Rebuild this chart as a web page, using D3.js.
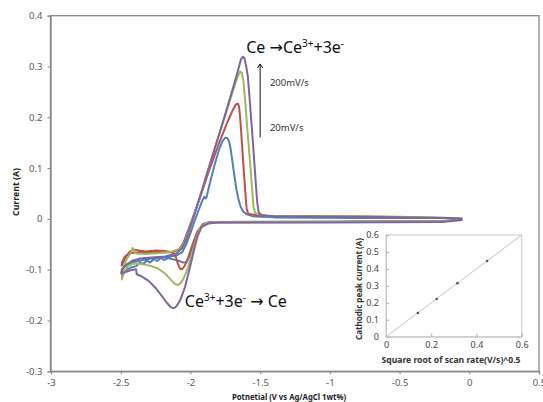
<!DOCTYPE html>
<html><head><meta charset="utf-8">
<script src="https://cdn.jsdelivr.net/npm/d3@7"></script>
<style>
html,body{margin:0;padding:0;background:#fff;}
svg{display:block;}
</style></head>
<body><svg id="c" width="543" height="402"></svg>
<script>
// ---- data ----
const xTicks = [-3, -2.5, -2, -1.5, -1, -0.5, 0, 0.5];
const yTicks = [-0.3, -0.2, -0.1, 0, 0.1, 0.2, 0.3, 0.4];
const scanRates = ["20mV/s", "50mV/s", "100mV/s", "200mV/s"];

const cv20 = [
 [-0.05,-0.001],[-0.20,-0.004],[-1.00,-0.005],[-1.86,-0.006],[-1.91,-0.010],[-1.95,-0.026],[-1.985,-0.055],[-2.01,-0.075],[-2.03,-0.086],[-2.05,-0.086],[-2.08,-0.083],[-2.12,-0.080],[-2.16,-0.077],[-2.19,-0.081],[-2.21,-0.077],[-2.24,-0.083],[-2.26,-0.079],[-2.29,-0.086],[-2.31,-0.082],[-2.34,-0.089],[-2.36,-0.086],[-2.39,-0.093],[-2.42,-0.095],[-2.45,-0.099],[-2.475,-0.103],[-2.495,-0.106],
 [-2.49,-0.098],[-2.46,-0.091],[-2.42,-0.086],[-2.36,-0.082],[-2.28,-0.078],[-2.18,-0.075],[-2.10,-0.072],[-2.06,-0.066],[-2.03,-0.050],[-2.00,-0.028],[-1.97,-0.004],[-1.94,0.018],[-1.915,0.036],[-1.90,0.044],[-1.893,0.040],[-1.885,0.042],[-1.87,0.060],[-1.85,0.082],[-1.82,0.113],[-1.79,0.140],[-1.77,0.153],[-1.75,0.160],[-1.735,0.159],[-1.722,0.152],[-1.712,0.138],[-1.70,0.115],[-1.685,0.085],[-1.67,0.058],[-1.655,0.038],[-1.64,0.024],[-1.62,0.014],[-1.595,0.009],[-1.55,0.005],[-1.40,0.003],[-0.80,0.002],[-0.15,0.002],[-0.05,0.001]
];
const cv50 = [
 [-0.05,-0.001],[-0.20,-0.005],[-1.00,-0.006],[-1.85,-0.007],[-1.91,-0.011],[-1.95,-0.025],[-1.985,-0.050],[-2.015,-0.075],[-2.04,-0.092],[-2.06,-0.099],[-2.075,-0.098],[-2.09,-0.088],[-2.105,-0.074],[-2.13,-0.066],[-2.18,-0.063],[-2.25,-0.062],[-2.32,-0.064],[-2.37,-0.062],[-2.41,-0.060],[-2.44,-0.066],[-2.47,-0.078],[-2.493,-0.092],
 [-2.49,-0.085],[-2.47,-0.074],[-2.44,-0.068],[-2.40,-0.066],[-2.30,-0.067],[-2.20,-0.066],[-2.12,-0.065],[-2.08,-0.060],[-2.05,-0.047],[-2.02,-0.025],[-1.99,-0.003],[-1.93,0.043],[-1.87,0.092],[-1.80,0.145],[-1.74,0.187],[-1.695,0.215],[-1.672,0.226],[-1.660,0.227],[-1.652,0.222],[-1.645,0.205],[-1.637,0.175],[-1.628,0.138],[-1.618,0.098],[-1.607,0.055],[-1.597,0.020],[-1.585,0.010],[-1.50,0.006],[-0.80,0.004],[-0.15,0.002],[-0.05,0.000]
];
const cv100 = [
 [-0.05,-0.001],[-0.20,-0.005],[-1.00,-0.006],[-1.82,-0.006],[-1.89,-0.009],[-1.93,-0.018],[-1.96,-0.040],[-1.99,-0.070],[-2.02,-0.098],[-2.05,-0.118],[-2.075,-0.128],[-2.09,-0.130],[-2.11,-0.128],[-2.14,-0.120],[-2.18,-0.108],[-2.23,-0.098],[-2.29,-0.092],[-2.35,-0.089],[-2.41,-0.088],[-2.45,-0.093],[-2.475,-0.104],[-2.492,-0.119],
 [-2.488,-0.108],[-2.475,-0.090],[-2.455,-0.078],[-2.43,-0.068],[-2.415,-0.057],[-2.405,-0.063],[-2.39,-0.068],[-2.32,-0.069],[-2.22,-0.067],[-2.13,-0.064],[-2.07,-0.058],[-2.04,-0.045],[-2.01,-0.022],[-1.98,0.003],[-1.93,0.045],[-1.85,0.117],[-1.76,0.196],[-1.70,0.248],[-1.665,0.277],[-1.645,0.290],[-1.632,0.288],[-1.62,0.272],[-1.605,0.225],[-1.59,0.170],[-1.575,0.120],[-1.56,0.068],[-1.548,0.025],[-1.535,0.011],[-1.45,0.006],[-0.65,0.005],[-0.15,0.002],[-0.05,0.001]
];
const cv200 = [
 [-0.05,-0.002],[-0.20,-0.006],[-1.00,-0.007],[-1.80,-0.007],[-1.87,-0.009],[-1.92,-0.016],[-1.95,-0.035],[-1.98,-0.068],[-2.01,-0.103],[-2.04,-0.135],[-2.07,-0.158],[-2.10,-0.172],[-2.12,-0.176],[-2.14,-0.174],[-2.17,-0.165],[-2.21,-0.150],[-2.25,-0.136],[-2.30,-0.122],[-2.35,-0.113],[-2.385,-0.109],[-2.39,-0.099],[-2.43,-0.101],[-2.47,-0.105],[-2.495,-0.108],
 [-2.49,-0.099],[-2.46,-0.090],[-2.42,-0.083],[-2.36,-0.078],[-2.28,-0.076],[-2.18,-0.074],[-2.10,-0.068],[-2.06,-0.058],[-2.03,-0.040],[-2.00,-0.016],[-1.975,0.006],[-1.93,0.045],[-1.85,0.117],[-1.75,0.206],[-1.69,0.262],[-1.655,0.296],[-1.638,0.314],[-1.625,0.319],[-1.612,0.316],[-1.60,0.300],[-1.588,0.280],[-1.575,0.235],[-1.56,0.180],[-1.545,0.125],[-1.53,0.065],[-1.52,0.030],[-1.51,0.013],[-1.49,0.007],[-1.40,0.005],[-0.80,0.004],[-0.15,0.002],[-0.05,0.000]
];

// inset data
const sqrtScanRate = [0.141, 0.224, 0.316, 0.447];
const cathodicPeak = [0.140, 0.222, 0.316, 0.447];
const fitLineX = [0, 0.6];
const fitLineY = [0, 0.6];
const insetXTicks = [0, 0.2, 0.4, 0.6];
const insetYTicks = [0, 0.1, 0.2, 0.3, 0.4, 0.5, 0.6];

// ---- drawing ----
const svg = d3.select("#c");
const x = d3.scaleLinear().domain([-3, 0.5]).range([51, 539]);
const y = d3.scaleLinear().domain([-0.3, 0.4]).range([371.3, 15.7]);
const tickFont = "'Noto Sans', 'DejaVu Sans', sans-serif";

// frame
svg.append("rect").attr("x", 50.5).attr("y", 15.7).attr("width", 488.5).attr("height", 355.6)
  .attr("fill", "none").attr("stroke", "#878787").attr("stroke-width", 1.3);

const gx = svg.append("g").attr("transform", "translate(0,371.3)")
  .call(d3.axisBottom(x).tickValues(xTicks).tickFormat(d => String(d)).tickSize(3).tickPadding(5));
const gy = svg.append("g").attr("transform", "translate(50.5,0)")
  .call(d3.axisLeft(y).tickValues(yTicks).tickFormat(d => String(d)).tickSize(3).tickPadding(5));
[gx, gy].forEach(g => {
  g.select(".domain").attr("stroke", "#878787").attr("stroke-width", 1.3);
  g.selectAll(".tick line").attr("stroke", "#878787");
  g.selectAll(".tick text").attr("fill", "#595959").attr("font-size", 9.5).attr("font-family", tickFont);
});

// axis titles
svg.append("text").attr("x", 289).attr("y", 400).attr("text-anchor", "middle")
  .attr("font-family", tickFont).attr("font-weight", "bold").attr("font-size", 9)
  .attr("textLength", 114).attr("lengthAdjust", "spacingAndGlyphs").attr("fill", "#222")
  .text("Potnetial (V vs Ag/AgCl 1wt%)");
svg.append("text").attr("transform", "translate(19,192) rotate(-90)").attr("text-anchor", "middle")
  .attr("font-family", tickFont).attr("font-weight", "bold").attr("font-size", 9)
  .attr("textLength", 48).attr("lengthAdjust", "spacingAndGlyphs").attr("fill", "#222")
  .text("Current (A)");

// curves
const line = d3.line().x(d => x(d[0])).y(d => y(d[1])).curve(d3.curveLinear);
const series = [cv20, cv50, cv100, cv200];
const colors = ["#4f81bd", "#c0504d", "#9bbb59", "#8064a2"];
series.forEach((s, i) => {
  svg.append("path").datum(s).attr("d", line).attr("fill", "none")
    .attr("stroke", colors[i]).attr("stroke-width", 2).attr("stroke-linejoin", "round")
    .attr("data-rate", scanRates[i]);
});

// annotations
const annFont = "'Noto Sans', 'DejaVu Sans', sans-serif";
const t1 = svg.append("text").attr("x", x(-1.60)).attr("y", y(0.326)).attr("font-family", annFont)
  .attr("font-size", 16).attr("fill", "#111");
t1.append("tspan").text("Ce \u2192Ce");
t1.append("tspan").attr("font-size", 10).attr("dy", -6).text("3+");
t1.append("tspan").attr("dy", 6).text("+3e");
t1.append("tspan").attr("font-size", 10).attr("dy", -6).text("-");

const t2 = svg.append("text").attr("x", x(-2.04)).attr("y", y(-0.173)).attr("font-family", annFont)
  .attr("font-size", 16).attr("fill", "#111");
t2.append("tspan").text("Ce");
t2.append("tspan").attr("font-size", 10).attr("dy", -6).text("3+");
t2.append("tspan").attr("dy", 6).text("+3e");
t2.append("tspan").attr("font-size", 10).attr("dy", -6).text("-");
t2.append("tspan").attr("dy", 6).text(" \u2192 Ce");

svg.append("text").attr("x", x(-1.43)).attr("y", y(0.262)).attr("font-family", annFont)
  .attr("font-size", 9.5).attr("fill", "#333").text(scanRates[3]);
svg.append("text").attr("x", x(-1.43)).attr("y", y(0.174)).attr("font-family", annFont)
  .attr("font-size", 9.5).attr("fill", "#333").text(scanRates[0]);

// arrow
const ax = x(-1.50);
svg.append("line").attr("x1", ax).attr("x2", ax).attr("y1", y(0.16)).attr("y2", y(0.305))
  .attr("stroke", "#111").attr("stroke-width", 1);
svg.append("path").attr("d", `M${ax-2.6},${y(0.305)+4} L${ax},${y(0.305)} L${ax+2.6},${y(0.305)+4}`)
  .attr("fill", "none").attr("stroke", "#111").attr("stroke-width", 1);

// ---- inset ----
const ix = d3.scaleLinear().domain([0, 0.6]).range([386, 521.7]);
const iy = d3.scaleLinear().domain([0, 0.6]).range([336.7, 235]);
svg.append("rect").attr("x", 386).attr("y", 235).attr("width", 135.7).attr("height", 101.7)
  .attr("fill", "#fff").attr("stroke", "#c8c8c8").attr("stroke-width", 1);
const gix = svg.append("g").attr("transform", "translate(0,336.7)")
  .call(d3.axisBottom(ix).tickValues(insetXTicks).tickFormat(d => String(d)).tickSize(-3).tickPadding(5));
const giy = svg.append("g").attr("transform", "translate(386,0)")
  .call(d3.axisLeft(iy).tickValues(insetYTicks).tickFormat(d => String(d)).tickSize(-3).tickPadding(7));
[gix, giy].forEach(g => {
  g.select(".domain").attr("stroke", "#c8c8c8");
  g.selectAll(".tick line").attr("stroke", "#b0b0b0");
  g.selectAll(".tick text").attr("fill", "#444").attr("font-size", 9).attr("font-family", tickFont);
});
const fit = fitLineX.map((v, i) => [v, fitLineY[i]]);
svg.append("path").datum(fit).attr("d", d3.line().x(d => ix(d[0])).y(d => iy(d[1])))
  .attr("stroke", "#c4c4c4").attr("stroke-width", 1).attr("fill", "none");
svg.selectAll("circle.pt").data(sqrtScanRate).join("circle").attr("class", "pt")
  .attr("cx", d => ix(d)).attr("cy", (d, i) => iy(cathodicPeak[i])).attr("r", 1.3).attr("fill", "#555");

svg.append("text").attr("x", 451).attr("y", 362.5).attr("text-anchor", "middle")
  .attr("font-family", tickFont).attr("font-weight", "bold").attr("font-size", 9.5)
  .attr("textLength", 139).attr("lengthAdjust", "spacingAndGlyphs").attr("fill", "#333")
  .text("Square root of scan rate(V/s)^0.5");
svg.append("text").attr("transform", "translate(361.5,289) rotate(-90)").attr("text-anchor", "middle")
  .attr("font-family", tickFont).attr("font-weight", "bold").attr("font-size", 9.5)
  .attr("textLength", 102).attr("lengthAdjust", "spacingAndGlyphs").attr("fill", "#333")
  .text("Cathodic peak current (A)");
</script>
</body></html>
